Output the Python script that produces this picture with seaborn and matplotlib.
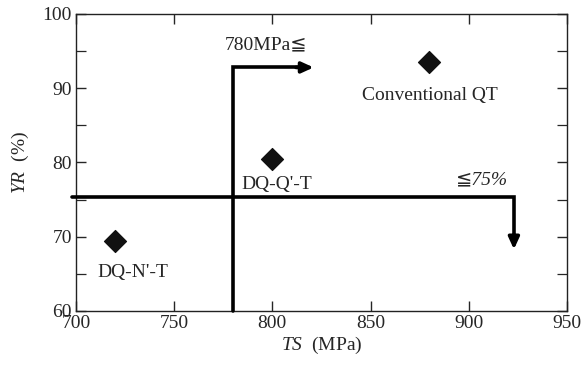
import matplotlib
matplotlib.use("Agg")
import matplotlib.pyplot as plt
import seaborn as sns
import pandas as pd

# data
labels = ["DQ-N'-T", "DQ-Q'-T", "Conventional QT"]
ts = [720, 800, 880]
yr = [69.4, 80.5, 93.6]
label_pos = [(729, 65.2), (802, 77.0), (880, 89.0)]

# the two criterion lines (corner + arrow tip)
ts_line_x = [780, 780, 814]
ts_line_y = [60, 92.8, 92.8]
ts_arrow_tip = (821, 92.8)
yr_line_x = [698, 923, 923]
yr_line_y = [75.3, 75.3, 70.0]
yr_arrow_tip = (923, 68.3)

df = pd.DataFrame({"TS": ts, "YR": yr, "steel": labels})

sns.set_style("ticks")
plt.rcParams["font.family"] = ["Liberation Serif", "DejaVu Serif"]
plt.rcParams["mathtext.fontset"] = "custom"
plt.rcParams["mathtext.rm"] = "Liberation Serif"
plt.rcParams["mathtext.it"] = "Liberation Serif:italic"

fig = plt.figure(figsize=(5.81, 3.70), dpi=100)
ax = fig.add_axes([0.1308, 0.1595, 0.845, 0.8027])

sns.scatterplot(data=df, x="TS", y="YR", marker="D", s=125, color="#111111",
                edgecolor="#111111", ax=ax, zorder=5, legend=False)

for name, (px, py) in zip(labels, label_pos):
    ax.text(px, py, name, ha="center", va="center", fontsize=14)

ax.plot(ts_line_x, ts_line_y, color="black", lw=2.6, solid_joinstyle="miter",
        clip_on=False, zorder=4)
ax.annotate("", xy=ts_arrow_tip, xytext=(ts_line_x[-1] - 2, ts_line_y[-1]),
            arrowprops=dict(arrowstyle="-|>,head_length=0.7,head_width=0.32",
                            color="black", lw=2.6, shrinkA=0, shrinkB=0))
ax.plot(yr_line_x, yr_line_y, color="black", lw=2.6, solid_joinstyle="miter",
        clip_on=False, zorder=4)
ax.annotate("", xy=yr_arrow_tip, xytext=(yr_line_x[-1], yr_line_y[-1] + 0.3),
            arrowprops=dict(arrowstyle="-|>,head_length=0.7,head_width=0.32",
                            color="black", lw=2.6, shrinkA=0, shrinkB=0))

ax.text(797, 95.9, "780MPa≦", ha="center", va="center", fontsize=14,
        family=["Liberation Serif", "DejaVu Sans"])
ax.text(907, 77.6, "≦75%", ha="center", va="center", fontsize=14,
        family=["Liberation Serif", "DejaVu Sans"], style="italic")

ax.set_xlim(700, 950)
ax.set_ylim(60, 100)
ax.set_xticks([700, 750, 800, 850, 900, 950])
ax.set_yticks([60, 70, 80, 90, 100])
ax.set_yticks([65, 75, 85, 95], minor=True)
ax.tick_params(which="both", direction="in", top=True, right=True,
               labelsize=14, length=7, width=1, pad=3)
ax.tick_params(which="minor", length=7, width=0.9)
for sp in ax.spines.values():
    sp.set_linewidth(1.0)
    sp.set_color("#222222")

ax.set_xlabel(r"$\it{TS}$  (MPa)", fontsize=14, labelpad=2)
ax.set_ylabel(r"$\it{YR}$  (%)", fontsize=14, labelpad=8)

fig.savefig("out.png", dpi=100)
